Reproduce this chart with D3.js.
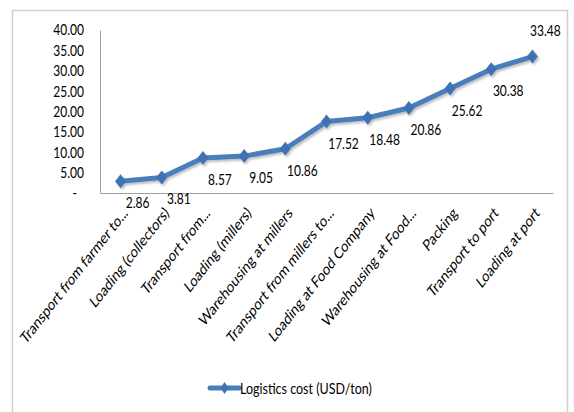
<!DOCTYPE html>
<html>
<head>
<meta charset="utf-8">
<script src="https://cdn.jsdelivr.net/npm/d3@7"></script>
<style>
  html, body { margin: 0; padding: 0; background: #fff; }
  svg { display: block; }
  text { font-family: Lato, "Open Sans", sans-serif; fill: #000; }
</style>
</head>
<body>
<svg id="chart" width="574" height="412"></svg>
<script>
// Logistics cost per stage of the supply chain (USD/ton)
const categories = [
  "Transport from farmer to...",
  "Loading (collectors)",
  "Transport from...",
  "Loading (millers)",
  "Warehousing at millers",
  "Transport from millers to...",
  "Loading at Food Company",
  "Warehousing at Food...",
  "Packing",
  "Transport to port",
  "Loading at port"
];
const costs = [2.86, 3.81, 8.57, 9.05, 10.86, 17.52, 18.48, 20.86, 25.62, 30.38, 33.48];
const yTicks = [0, 5, 10, 15, 20, 25, 30, 35, 40];
const seriesName = "Logistics cost (USD/ton)";

const svg = d3.select("#chart");
const plot = { left: 100, right: 553, top: 30, bottom: 193 };
const blue = "#4a7ebb";
const marker = "#3f72b3";
const tall = 1.27;   // glyphs are drawn taller than wide

// chart frame
svg.append("rect")
  .attr("x", 12.5).attr("y", 10.5)
  .attr("width", 555).attr("height", 410)
  .attr("fill", "none").attr("stroke", "#d0d0d0").attr("stroke-width", 1.5);

const x = d3.scaleBand().domain(categories).range([plot.left, plot.right]);
const y = d3.scaleLinear().domain([0, 40]).range([plot.bottom, plot.top]);

// y axis
const yAxis = d3.axisLeft(y).tickValues(yTicks).tickSize(0).tickPadding(16)
  .tickFormat(d => d === 0 ? "-" : d.toFixed(2));
const gy = svg.append("g").attr("transform", `translate(${plot.left},0)`).call(yAxis);
gy.select(".domain").attr("stroke", "#a0a0a0");
gy.selectAll("text")
  .attr("font-size", 12).attr("fill", "#222")
  .attr("font-family", "Lato, sans-serif")
  .attr("transform", `scale(1,${tall})`);
gy.selectAll(".tick").filter(d => d === 0).select("text").attr("dx", -7);

// x axis with rotated category names
const xAxis = d3.axisBottom(x).tickSize(0).tickFormat(d => d);
const gx = svg.append("g").attr("transform", `translate(0,${plot.bottom})`).call(xAxis);
gx.select(".domain").attr("stroke", "#a0a0a0");
gx.selectAll("text")
  .attr("font-size", 12.6)
  .attr("fill", "#111")
  .attr("text-anchor", "end")
  .attr("x", 0).attr("y", 0).attr("dy", 0)
  .attr("transform", `translate(8,21) scale(1,${tall}) rotate(-45)`);

// soft drop shadow under the series
const defs = svg.append("defs");
const f = defs.append("filter").attr("id", "shadow").attr("x", "-10%").attr("y", "-10%")
  .attr("width", "130%").attr("height", "140%");
f.append("feDropShadow").attr("dx", 1.5).attr("dy", 2).attr("stdDeviation", 1.2)
  .attr("flood-color", "#000").attr("flood-opacity", 0.25);

const cx = d => x(d) + x.bandwidth() / 2;
const pts = categories.map((c, i) => ({ c, v: costs[i] }));

const g = svg.append("g").attr("filter", "url(#shadow)");
g.append("path")
  .datum(pts)
  .attr("fill", "none")
  .attr("stroke", blue)
  .attr("stroke-width", 5)
  .attr("stroke-linejoin", "round")
  .attr("d", d3.line().x(d => cx(d.c)).y(d => y(d.v)));

const diamondPath = (hw, hh) => `M0,${-hh}L${hw},0L0,${hh}L${-hw},0Z`;
g.selectAll(".pt").data(pts).enter().append("path")
  .attr("d", diamondPath(5.5, 7))
  .attr("fill", marker)
  .attr("transform", d => `translate(${cx(d.c)},${y(d.v)})`);

// value labels: below-right of each point, last one above
const last = pts.length - 1;
svg.selectAll(".lbl").data(pts).enter().append("text")
  .attr("transform", (d, i) =>
    `translate(${cx(d.c) + (i === last ? 13 : 17)},${y(d.v) + (i === last ? -21 : 27)}) scale(1,${tall})`)
  .attr("text-anchor", "middle")
  .attr("font-size", 12)
  .attr("font-family", "Lato, sans-serif")
  .text(d => d.v.toFixed(2));

// legend
const lg = svg.append("g").attr("transform", "translate(210,388)");
lg.append("line").attr("x1", 0).attr("x2", 29).attr("y1", 0).attr("y2", 0)
  .attr("stroke", blue).attr("stroke-width", 5).attr("stroke-linecap", "round");
lg.append("path").attr("d", diamondPath(4, 6))
  .attr("fill", marker).attr("transform", "translate(14.5,0)");
lg.append("text")
  .attr("transform", `translate(30,0) scale(1,${tall})`)
  .attr("dy", "0.35em")
  .attr("font-size", 12.5).text(seriesName);
</script>
</body>
</html>
